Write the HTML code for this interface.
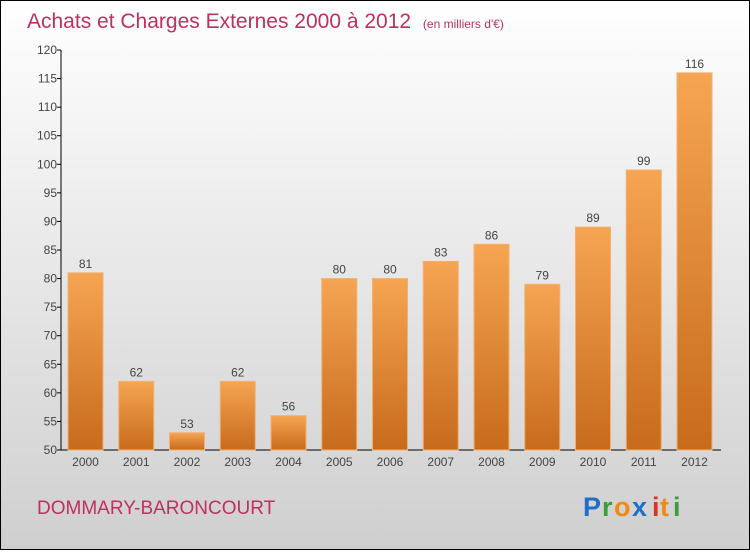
<!DOCTYPE html>
<html><head><meta charset="utf-8"><style>
html,body{margin:0;padding:0}
body{width:750px;height:550px;overflow:hidden;font-family:"Liberation Sans",sans-serif}
</style></head><body>
<svg width="750" height="550" xmlns="http://www.w3.org/2000/svg">
<defs>
<linearGradient id="bg" x1="0" y1="0" x2="0" y2="1"><stop offset="0" stop-color="#ffffff"/><stop offset="1" stop-color="#cfcfcf"/></linearGradient>
<linearGradient id="bar" x1="0" y1="0" x2="0" y2="1"><stop offset="0" stop-color="#f6a552"/><stop offset="1" stop-color="#c76b1c"/></linearGradient>
</defs>
<rect x="0.5" y="0.5" width="749" height="549" fill="url(#bg)" stroke="#000"/>
<text x="27" y="28" font-size="21" fill="#c0305e">Achats et Charges Externes 2000 à 2012 <tspan font-size="12" dx="6">(en milliers d'€)</tspan></text>
<g id="axes"></g>
<g id="bars"></g>
<text x="37" y="514" font-size="19" fill="#c0305e">DOMMARY-BARONCOURT</text>
<g font-size="27" font-weight="bold" font-family="Liberation Sans, sans-serif">
<text x="583" y="516" fill="#1f6fc8">P</text><text x="602" y="516" fill="#3aa03a">r</text><text x="614" y="516" fill="#f08a10">o</text><text x="632" y="516" fill="#1f6fc8">x</text><text x="652" y="516" fill="#e03020">i</text><text x="660" y="516" fill="#f08a10">t</text><text x="673" y="516" fill="#3aa03a">i</text>
</g>
</svg>
<script>
const years=["2000","2001","2002","2003","2004","2005","2006","2007","2008","2009","2010","2011","2012"];
const values=[81,62,53,62,56,80,80,83,86,79,89,99,116];
const yTicks=[50,55,60,65,70,75,80,85,90,95,100,105,110,115,120];
const NS="http://www.w3.org/2000/svg";
const y=v=>450-(v-50)*400/70;
const x=i=>85.5+i*50.75;
function mk(t,a,p){const e=document.createElementNS(NS,t);for(const k in a)e.setAttribute(k,a[k]);p.appendChild(e);return e;}
const ax=document.getElementById('axes'),bg=document.getElementById('bars');
let l=mk('line',{x1:61,y1:50,x2:61,y2:450,stroke:'#000'},ax);


l=mk('line',{x1:61,y1:450,x2:721,y2:450,stroke:'#000'},ax);


yTicks.forEach(v=>{
 const t=mk('line',{x1:57,y1:y(v),x2:61,y2:y(v),stroke:'#000'},ax);
 
 
 const tx=mk('text',{x:57,y:y(v)+4,'font-size':12,fill:'#444','text-anchor':'end'},ax);
 tx.textContent=v;
 
 
});
values.forEach((v,i)=>{
 const r=mk('rect',{x:x(i)-17.5,y:y(v),width:35,height:450-y(v),fill:'url(#bar)',stroke:'#f3b070','stroke-width':1},bg);
 
 
 const vt=mk('text',{x:x(i),y:y(v)-5,'font-size':12,fill:'#444','text-anchor':'middle'},bg);
 vt.textContent=v;
 
 
 const xt=mk('text',{x:x(i),y:466,'font-size':12,fill:'#444','text-anchor':'middle'},bg);
 xt.textContent=years[i];
 
 
});
</script>
</body></html>
